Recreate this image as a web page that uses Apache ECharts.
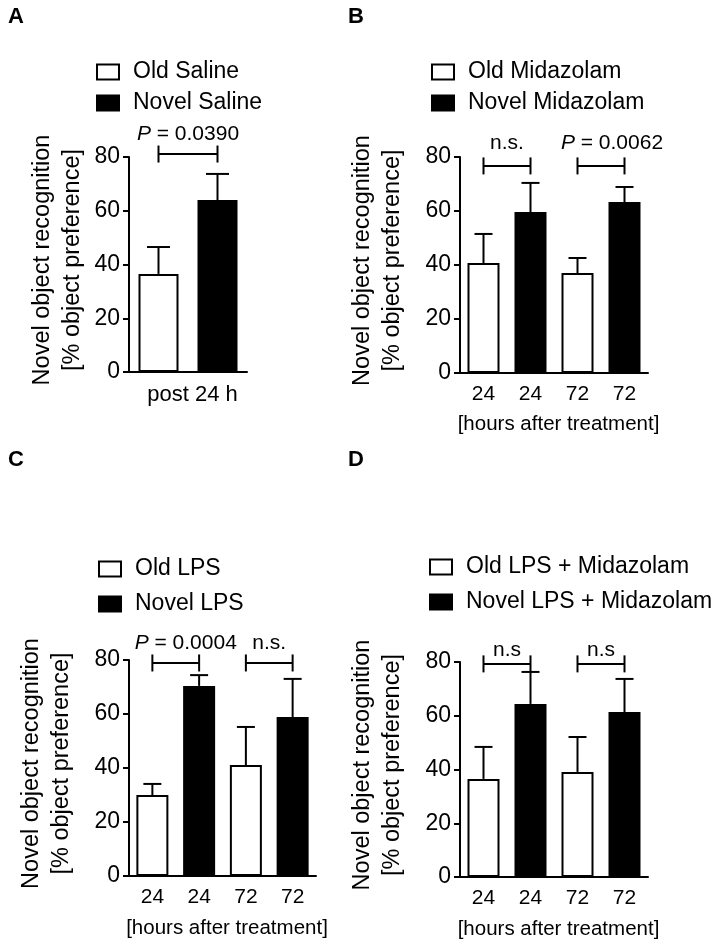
<!DOCTYPE html>
<html>
<head>
<meta charset="utf-8">
<script src="https://cdn.jsdelivr.net/npm/echarts@6/dist/echarts.min.js"></script>
<style>
  html, body { margin: 0; padding: 0; background: #fff; }
  #chart { width: 725px; height: 947px; }
</style>
</head>
<body>
<div id="chart"></div>
<script>
// ---------------- DATA ----------------
const panelLetters = ['A', 'B', 'C', 'D'];

const legendA = ['Old Saline', 'Novel Saline'];
const legendB = ['Old Midazolam', 'Novel Midazolam'];
const legendC = ['Old LPS', 'Novel LPS'];
const legendD = ['Old LPS + Midazolam', 'Novel LPS + Midazolam'];

const categoriesA = ['Old', 'Novel'];
const xNameA = 'post 24 h';
const categoriesBCD = ['24', '24', '72', '72'];
const xNameBCD = '[hours after treatment]';
const yName = 'Novel object recognition\n[% object preference]';
const yTicks = { min: 0, max: 80, interval: 20 };

// means (old at even index, novel at odd index) and SD (upper error)
const meansA = [36.5, 64.0];
const sdA    = [10.0, 9.7];
const meansB = [40.7, 59.6, 37.0, 63.3];
const sdB    = [10.8, 10.8, 5.6, 5.6];
const meansC = [30.0, 70.4, 41.1, 58.9];
const sdC    = [4.1, 4.0, 14.1, 14.1];
const meansD = [36.5, 64.4, 39.1, 61.4];
const sdD    = [11.9, 11.9, 13.0, 12.3];

// significance brackets: [fromIndex, toIndex, level]
const bracketsA = [[0, 1, 81.1]];
const bracketLabelsA = ['P = 0.0390'];
const bracketsB = [[0, 1, 76.7], [2, 3, 76.7]];
const bracketLabelsB = ['n.s.', 'P = 0.0062'];
const bracketsC = [[0, 1, 78.9], [2, 3, 78.9]];
const bracketLabelsC = ['P = 0.0004', 'n.s.'];
const bracketsD = [[0, 1, 79.3], [2, 3, 79.3]];
const bracketLabelsD = ['n.s', 'n.s'];

// ---------------- LAYOUT / STYLE ----------------
const FONT = "'Liberation Sans', Arial, Helvetica, sans-serif";
const panels = [
  { legend: legendA, cats: categoriesA, xName: xNameA, means: meansA, sd: sdA, br: bracketsA, brl: bracketLabelsA,
    grid: { left: 129, top: 157, width: 118, height: 215 }, barWidth: 40, cap: 23,
    legendPos: { left: 96, top: 60 }, legendGap: 7, labelGap: 20, pDx: 0, showTickLabels: false, xNameGap: 12, xNameSize: 22,
    yNameGap: 41, letterPos: [8, 18] },
  { legend: legendB, cats: categoriesBCD, xName: xNameBCD, means: meansB, sd: sdB, br: bracketsB, brl: bracketLabelsB,
    grid: { left: 460, top: 157, width: 188, height: 216 }, barWidth: 32, cap: 18,
    legendPos: { left: 431, top: 60 }, legendGap: 7, labelGap: 23, pDx: 11, showTickLabels: true, xNameGap: 41, xNameSize: 20.5,
    yNameGap: 52, letterPos: [348, 18] },
  { legend: legendC, cats: categoriesBCD, xName: xNameBCD, means: meansC, sd: sdC, br: bracketsC, brl: bracketLabelsC,
    grid: { left: 129, top: 660, width: 187, height: 216 }, barWidth: 32, cap: 18,
    legendPos: { left: 98, top: 557 }, legendGap: 11, labelGap: 20, pDx: 10, showTickLabels: true, xNameGap: 42, xNameSize: 20.5,
    yNameGap: 52, letterPos: [8, 461] },
  { legend: legendD, cats: categoriesBCD, xName: xNameBCD, means: meansD, sd: sdD, br: bracketsD, brl: bracketLabelsD,
    grid: { left: 460, top: 662, width: 188, height: 215 }, barWidth: 32, cap: 18,
    legendPos: { left: 429, top: 555 }, legendGap: 11, labelGap: 14, pDx: 3, showTickLabels: true, xNameGap: 42, xNameSize: 20.5,
    yNameGap: 52, letterPos: [348, 461] }
];

const grids = [], xAxes = [], yAxes = [], series = [], legends = [], graphics = [];

panels.forEach((p, k) => {
  grids.push(Object.assign({ containLabel: false }, p.grid));
  xAxes.push({
    type: 'category', gridIndex: k, data: p.cats,
    axisLine: { show: true, lineStyle: { color: '#000', width: 2 } },
    axisTick: { show: false },
    axisLabel: { show: p.showTickLabels, interval: 0, color: '#000', fontSize: 21, fontFamily: FONT, margin: 11 },
    splitLine: { show: false },
    name: p.xName, nameLocation: 'middle', nameGap: p.xNameGap,
    nameTextStyle: { color: '#000', fontSize: p.xNameSize, fontFamily: FONT, padding: [0, 0, 0, 9] }
  });
  yAxes.push({
    type: 'value', gridIndex: k, min: yTicks.min, max: yTicks.max, interval: yTicks.interval,
    axisLine: { show: true, lineStyle: { color: '#000', width: 2 } },
    axisTick: { show: true, length: 6, lineStyle: { color: '#000', width: 2 } },
    axisLabel: { color: '#000', fontSize: 23, fontFamily: FONT, margin: 9 },
    splitLine: { show: false },
    name: yName, nameLocation: 'middle', nameRotate: 90, nameGap: p.yNameGap,
    nameTextStyle: { color: '#000', fontSize: 23.5, fontFamily: FONT, lineHeight: 30, align: 'center', padding: [0, 0, 0, 9] }
  });
  const oldData = p.means.map((v, i) => (i % 2 === 0 ? v : '-'));
  const novData = p.means.map((v, i) => (i % 2 === 1 ? v : '-'));
  series.push({
    type: 'bar', name: p.legend[0], xAxisIndex: k, yAxisIndex: k, data: oldData,
    barWidth: p.barWidth, barGap: '-100%', z: 2,
    itemStyle: { color: '#fff', borderColor: '#000', borderWidth: 2 },
    emphasis: { disabled: true }
  });
  series.push({
    type: 'bar', name: p.legend[1], xAxisIndex: k, yAxisIndex: k, data: novData,
    barWidth: p.barWidth, barGap: '-100%', z: 2,
    itemStyle: { color: '#000', borderColor: '#000', borderWidth: 2 },
    emphasis: { disabled: true }
  });
  // error bars (upper SD)
  series.push({
    type: 'custom', xAxisIndex: k, yAxisIndex: k, z: 3, silent: true,
    data: p.means.map((m, i) => [i, m, p.sd[i]]),
    encode: { x: 0, y: 1 },
    renderItem: function (params, api) {
      const i = api.value(0), m = api.value(1), s = api.value(2);
      const b = api.coord([i, m]);
      const t = api.coord([i, m + s]);
      return {
        type: 'group', children: [
          { type: 'line', shape: { x1: b[0], y1: b[1], x2: t[0], y2: t[1] }, style: { stroke: '#000', lineWidth: 2 } },
          { type: 'line', shape: { x1: t[0] - p.cap / 2, y1: t[1], x2: t[0] + p.cap / 2, y2: t[1] }, style: { stroke: '#000', lineWidth: 2 } }
        ]
      };
    }
  });
  // significance brackets
  series.push({
    type: 'custom', xAxisIndex: k, yAxisIndex: k, z: 4, silent: true, clip: false,
    data: p.br,
    encode: { x: [0, 1], y: 2 },
    renderItem: function (params, api) {
      const a = api.coord([api.value(0), api.value(2)]);
      const b = api.coord([api.value(1), api.value(2)]);
      const h = 8.5;
      const lab = p.brl[params.dataIndex];
      const isP = lab.charAt(0) === 'P';
      const txt = isP ? '{i|P}{n|' + lab.slice(1) + '}' : '{n|' + lab + '}';
      return {
        type: 'group', children: [
          { type: 'line', shape: { x1: a[0], y1: a[1], x2: b[0], y2: b[1] }, style: { stroke: '#000', lineWidth: 2 } },
          { type: 'line', shape: { x1: a[0], y1: a[1] - h, x2: a[0], y2: a[1] + h }, style: { stroke: '#000', lineWidth: 2 } },
          { type: 'line', shape: { x1: b[0], y1: b[1] - h, x2: b[0], y2: b[1] + h }, style: { stroke: '#000', lineWidth: 2 } },
          { type: 'text', x: (a[0] + b[0]) / 2 + (isP ? p.pDx : 0), y: a[1] - p.labelGap,
            style: {
              text: txt, align: 'center', verticalAlign: 'middle', fill: '#000',
              rich: {
                i: { fontStyle: 'italic', fontSize: 21, fontFamily: FONT, fill: '#000' },
                n: { fontSize: 21, fontFamily: FONT, fill: '#000' }
              }
            } }
        ]
      };
    }
  });
  legends.push({
    data: p.legend, orient: 'vertical', left: p.legendPos.left, top: p.legendPos.top,
    padding: 0, itemGap: p.legendGap, itemWidth: 22, itemHeight: 15, icon: 'rect',
    selectedMode: false,
    textStyle: { color: '#000', fontSize: 23, fontFamily: FONT, lineHeight: 24, padding: [0, 0, 0, 9] }
  });
  graphics.push({
    type: 'text', left: p.letterPos[0], top: p.letterPos[1] - 12,
    style: { text: panelLetters[k], fill: '#000', font: 'bold 22px ' + FONT }
  });
});

const chart = echarts.init(document.getElementById('chart'), null, { renderer: 'canvas' });
chart.setOption({
  animation: false,
  backgroundColor: '#fff',
  grid: grids, xAxis: xAxes, yAxis: yAxes, series: series, legend: legends, graphic: graphics
});
</script>
</body>
</html>
